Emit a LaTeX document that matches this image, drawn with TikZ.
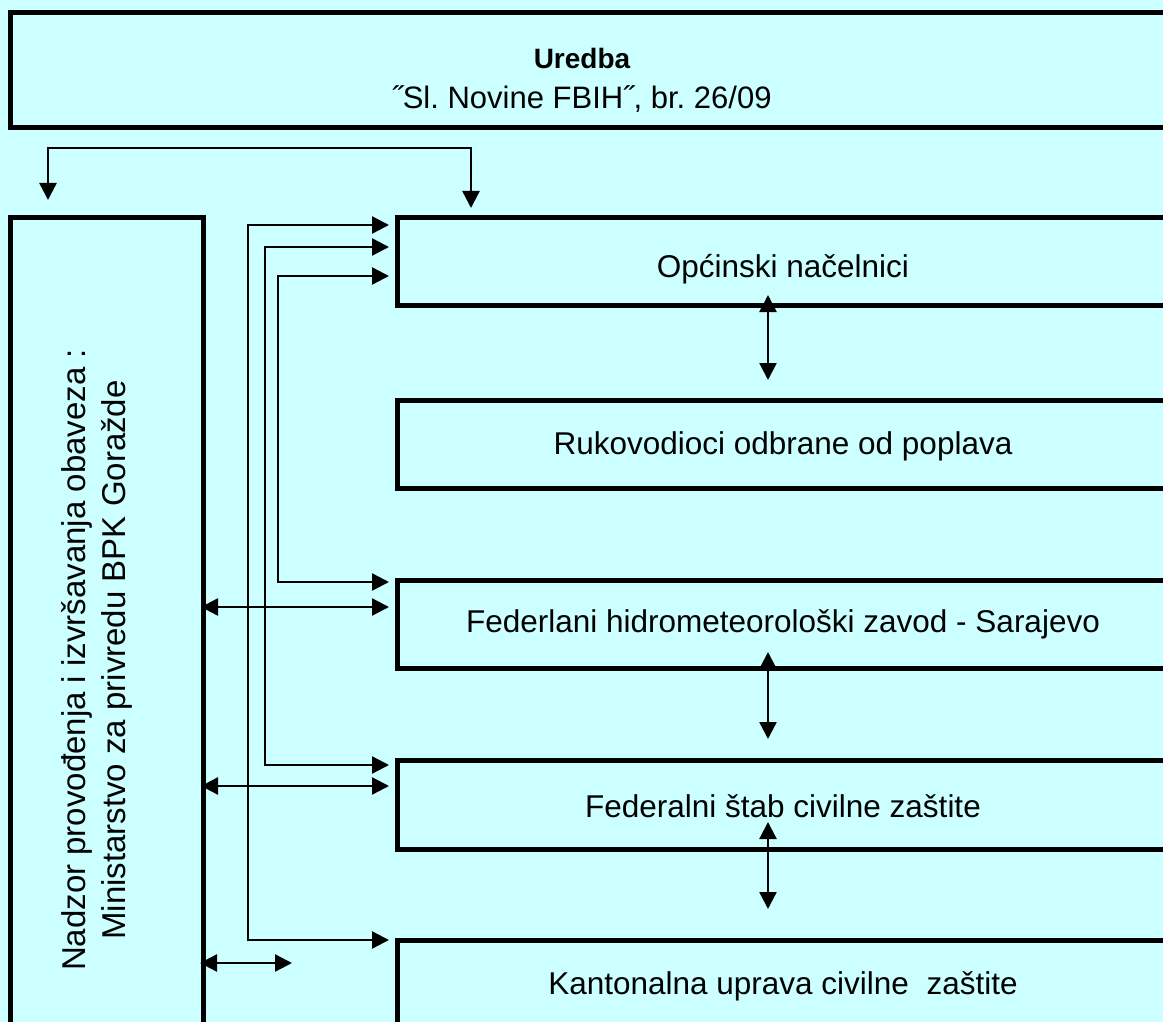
\documentclass[tikz,border=0pt]{standalone}
\usepackage{fontspec}
\setmainfont{Liberation Sans}
\usetikzlibrary{arrows.meta,calc}
\definecolor{bg}{HTML}{CCFFFF}
\frenchspacing
\begin{document}
\begin{tikzpicture}[x=1pt,y=-1pt,
  box/.style={draw=black,line width=5pt,fill=bg,inner sep=0pt,outer sep=0pt,anchor=north west},
  conn/.style={line width=2.4pt,draw=black},
  darr/.style={conn,{Triangle[length=17pt,width=17pt]}-{Triangle[length=17pt,width=17pt]}},
  lbl/.style={font=\fontsize{31.5}{40}\selectfont,align=center,inner sep=0pt}]
\fill[bg] (0,0) rectangle (1163,1022);
\useasboundingbox (0,0) rectangle (1163,1022);
\begin{scope}
\clip (0,0) rectangle (1163,1022);
% boxes
\node[box,minimum width=1200pt,minimum height=115pt] (top) at (10,13) {};
\node[box,minimum width=193pt,minimum height=900pt] (left) at (10,218) {};
\node[box,minimum width=800pt,minimum height=87pt] (opc) at (397,218) {};
\node[box,minimum width=800pt,minimum height=88pt] (ruk) at (397,400) {};
\node[box,minimum width=800pt,minimum height=88pt] (hid) at (397,580) {};
\node[box,minimum width=800pt,minimum height=89pt] (stab) at (397,760) {};
\node[box,minimum width=800pt,minimum height=100pt] (kant) at (397,940) {};
% texts
\node[lbl,font=\fontsize{31}{40}\selectfont] (topt) at (582,80) {{\fontsize{28}{40}\selectfont\bfseries Uredba}\\˝Sl. Novine FBIH˝, br. 26/09};
\node[lbl,font=\fontsize{33}{40}\selectfont,rotate=90] (leftt) at (97,660) {Nadzor provođenja i izvršavanja obaveza :\\Ministarstvo za privredu BPK Goražde};
\node[lbl] (opct) at (783,269) {Općinski načelnici};
\node[lbl] (rukt) at (783,446) {Rukovodioci odbrane od poplava};
\node[lbl] (hidt) at (783,624) {Federlani hidrometeorološki zavod - Sarajevo};
\node[lbl] (stabt) at (783,806) {Federalni štab civilne zaštite};
\node[lbl] (kantt) at (783,986) {Kantonalna uprava civilne\ \ zaštite};
% connector from top
\coordinate (aL) at ($(left.north west)+(38,-18)$);
\coordinate (aR) at ($(opc.north west)+(74,-10)$);
\coordinate (aY) at ($(top.south west)+(0,20)$);
\draw[darr] (aL) -- (aL|-aY) -- (aR|-aY) -- (aR);
% bus lines
\coordinate (b1) at ($(opc.north west)+(-8,7)$);
\coordinate (b2) at ($(kant.north west)+(-8,0)$);
\draw[darr] (b1) -- ++(-141,0) |- (b2);
\coordinate (c1) at ($(opc.north west)+(-8,29)$);
\coordinate (c2) at ($(stab.north west)+(-8,5)$);
\draw[darr] (c1) -- ++(-124,0) |- (c2);
\coordinate (d1) at ($(opc.north west)+(-8,58)$);
\coordinate (d2) at ($(hid.north west)+(-8,2)$);
\draw[darr] (d1) -- ++(-111,0) |- (d2);
% left double arrows
\draw[darr] ($(left.north east)+(-2,389)$) -- ($(hid.north west)+(-8,27)$);
\draw[darr] ($(left.north east)+(-2,568)$) -- ($(stab.north west)+(-8,26)$);
\coordinate (g2) at ($(kant.north west)+(-105,23)$);
\draw[darr] ($(left.north east)+(-3,745)$) -- (g2);
% vertical double arrows
\draw[darr] ($(opc.south west)+(371,-10)$) -- ($(ruk.north west)+(371,-20)$);
\draw[darr] ($(hid.south west)+(371,-16)$) -- ($(stab.north west)+(371,-21)$);
\draw[darr] ($(stab.south west)+(371,-27)$) -- ($(kant.north west)+(371,-31)$);
\end{scope}
\end{tikzpicture}
\end{document}
